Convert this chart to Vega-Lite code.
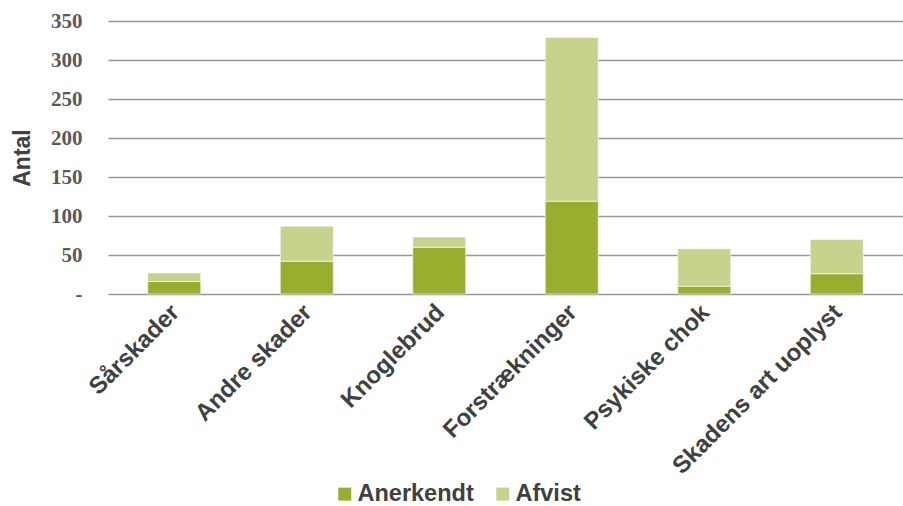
{
  "$schema": "https://vega.github.io/schema/vega-lite/v6.json",
  "autosize": {"type": "none"},
  "width": 795,
  "height": 273,
  "padding": {"left": 108, "top": 21, "right": 0, "bottom": 212},
  "background": "#ffffff",
  "data": {
    "values": [
      {"skade": "Sårskader", "status": "Anerkendt", "antal": 16, "rk": 1},
      {"skade": "Sårskader", "status": "Afvist", "antal": 11, "rk": 2},
      {"skade": "Andre skader", "status": "Anerkendt", "antal": 42, "rk": 1},
      {"skade": "Andre skader", "status": "Afvist", "antal": 45, "rk": 2},
      {"skade": "Knoglebrud", "status": "Anerkendt", "antal": 60, "rk": 1},
      {"skade": "Knoglebrud", "status": "Afvist", "antal": 13, "rk": 2},
      {"skade": "Forstrækninger", "status": "Anerkendt", "antal": 119, "rk": 1},
      {"skade": "Forstrækninger", "status": "Afvist", "antal": 210, "rk": 2},
      {"skade": "Psykiske chok", "status": "Anerkendt", "antal": 10, "rk": 1},
      {"skade": "Psykiske chok", "status": "Afvist", "antal": 48, "rk": 2},
      {"skade": "Skadens art uoplyst", "status": "Anerkendt", "antal": 26, "rk": 1},
      {"skade": "Skadens art uoplyst", "status": "Afvist", "antal": 44, "rk": 2}
    ]
  },
  "mark": {"type": "bar", "stroke": "#ffffff", "strokeWidth": 1, "strokeOpacity": 0.6},
  "encoding": {
    "x": {
      "field": "skade",
      "type": "nominal",
      "sort": null,
      "scale": {"paddingInner": 0.6, "paddingOuter": 0.3},
      "axis": {
        "title": null,
        "labelAngle": -45,
        "labelFont": "Liberation Sans",
        "labelFontSize": 24,
        "labelFontWeight": "bold",
        "labelColor": "#404040",
        "labelPadding": 6,
        "labelOffset": -7,
        "labelLimit": 400,
        "ticks": false,
        "domain": false,
        "grid": false
      }
    },
    "y": {
      "field": "antal",
      "type": "quantitative",
      "stack": "zero",
      "scale": {"domain": [0, 350], "nice": false},
      "axis": {
        "title": "Antal",
        "titleFont": "Liberation Sans",
        "titleFontSize": 23,
        "titleFontWeight": "bold",
        "titleColor": "#404040",
        "titlePadding": 16,
        "values": [0, 50, 100, 150, 200, 250, 300, 350],
        "labelExpr": "datum.value === 0 ? '-\u00a0\u00a0\u00a0' : datum.label",
        "labelFont": "Liberation Serif",
        "labelFontSize": 21,
        "labelFontWeight": "bold",
        "labelColor": "#595959",
        "labelPadding": 26,
        "ticks": false,
        "domain": false,
        "grid": true,
        "gridColor": "#969696",
        "gridWidth": 1.5
      }
    },
    "color": {
      "field": "status",
      "type": "nominal",
      "scale": {"domain": ["Anerkendt", "Afvist"], "range": ["#9aad2e", "#c6d38c"]},
      "legend": {
        "title": null,
        "orient": "none",
        "direction": "horizontal",
        "legendX": 225,
        "legendY": 461,
        "symbolType": "square",
        "symbolSize": 169,
        "symbolStrokeWidth": 0,
        "symbolOpacity": 1,
        "labelFont": "Liberation Sans",
        "labelFontSize": 23.5,
        "labelFontWeight": "bold",
        "labelColor": "#404040",
        "labelOffset": 1,
        "columnPadding": 17
      }
    },
    "order": {"field": "rk", "type": "quantitative"}
  },
  "config": {"view": {"stroke": null}}
}
